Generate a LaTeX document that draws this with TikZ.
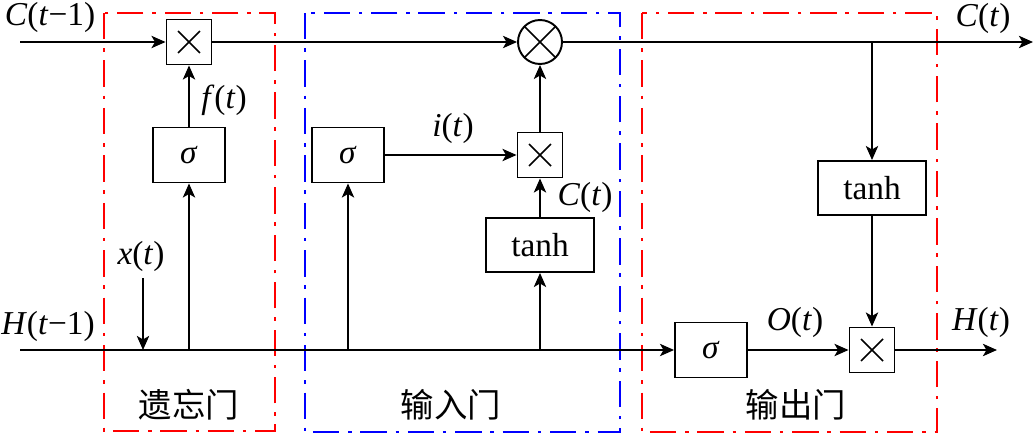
\documentclass[tikz,border=0pt]{standalone}
\usepackage{fontspec}
\setmainfont{Liberation Serif}
\newfontfamily\cjk{Noto Sans CJK SC}
\usepackage{tikz}
\usetikzlibrary{
    arrows.meta,
    positioning,
    calc
}
\tikzset{
  block/.style   = {draw, line width=1.1pt, minimum width=1.44cm,
                    minimum height=1.1cm, inner sep=0pt},
  tblock/.style  = {draw, line width=1.1pt, minimum width=2.16cm,
                    minimum height=1.08cm, inner sep=0pt},
  mult/.style    = {draw, line width=1.1pt, minimum size=0.9cm, inner sep=0pt,
                    path picture={\draw[line width=0.9pt]
                      ([shift={(-0.22cm,-0.22cm)}]path picture bounding box.center) --
                      ([shift={(0.22cm,0.22cm)}]path picture bounding box.center)
                      ([shift={(-0.22cm,0.22cm)}]path picture bounding box.center) --
                      ([shift={(0.22cm,-0.22cm)}]path picture bounding box.center);}},
  pmult/.style   = {draw, circle, line width=1.1pt, minimum size=0.88cm, inner sep=0pt,
                    path picture={\draw[line width=0.9pt]
                      (path picture bounding box.north west) --
                      (path picture bounding box.south east)
                      (path picture bounding box.north east) --
                      (path picture bounding box.south west);}},
  arr/.style     = {-{Stealth[length=8pt, width=7pt, inset=2pt]}, line width=1.1pt},
  gate/.style    = {line width=1.4pt,
                    dash pattern=on 15pt off 5pt on 2pt off 5pt},
  cjklabel/.style = {font=\cjk\fontsize{19}{22}\selectfont}
}
\definecolor{gateRed}{RGB}{255,0,0}
\definecolor{gateBlue}{RGB}{0,0,255}

\begin{document}
\begin{tikzpicture}[x=0.02cm, y=-0.02cm, font=\fontsize{19}{22}\selectfont]
    \useasboundingbox (0,0) rectangle (1035,436);

    % gates
    \draw[gate, gateRed]  (104,13) rectangle (275,431);
    \draw[gate, gateBlue] (305,13) rectangle (620,432);
    \draw[gate, gateRed]  (642,13) rectangle (937,432);

    % blocks
    \node[mult]   (m1)   at (189,42)  {};
    \node[pmult]  (csum) at (540,42)  {};
    \node[block]  (sf)   at (189,155) {\textit{σ}};
    \node[block]  (si)   at (348,155) {\textit{σ}};
    \node[mult]   (m2)   at (540,155) {};
    \node[tblock] (ti)   at (540,245) {tanh};
    \node[tblock] (to)   at (872,188) {tanh};
    \node[block]  (so)   at (711,350) {\textit{σ}};
    \node[mult]   (m3)   at (872,350) {};

    \coordinate (cin)  at (20,42);
    \coordinate (cout) at (1033,42);
    \coordinate (ctap) at (872,42);
    \coordinate (hin)  at (20,350);
    \coordinate (hout) at (997,350);
    \coordinate (xtop) at (143,278);
    \coordinate (xin)  at (143,350);
    \coordinate (hf)   at (189,350);
    \coordinate (hi)   at (348,350);
    \coordinate (hc)   at (540,350);

    % cell state
    \draw[arr] (cin) -- (m1);
    \draw[arr] (m1) -- (csum);
    \draw[arr] (csum) -- (cout);
    \draw[arr] (ctap) -- (to);
    \draw[arr] (to) -- (m3);

    % hidden state
    \draw[arr] (hin) -- (so);
    \draw[arr] (so) -- (m3);
    \draw[arr] (m3) -- (hout);
    \draw[arr] (xtop) -- (xin);
    \draw[arr] (hf) -- (sf);
    \draw[arr] (sf) -- (m1);
    \draw[arr] (hi) -- (si);
    \draw[arr] (si) -- (m2);
    \draw[arr] (hc) -- (ti);
    \draw[arr] (ti) -- (m2);
    \draw[arr] (m2) -- (csum);

    % labels
    \node (lcin)  at (50,17)   {\textit{C}(\textit{t}−1)};
    \node (lf)    at (224,100) {\textit{f}(\textit{t})};
    \node (lx)    at (141,256) {\textit{x}(\textit{t})};
    \node (lhin)  at (48,326)  {\textit{H}(\textit{t}−1)};
    \node (li)    at (453,128) {\textit{i}(\textit{t})};
    \node (lct)   at (585,197) {\textit{C}(\textit{t})};
    \node (lcout) at (983,18)  {\textit{C}(\textit{t})};
    \node (lo)    at (795,322) {\textit{O}(\textit{t})};
    \node (lhout) at (981,322) {\textit{H}(\textit{t})};

    \node[cjklabel] (gf) at (189,405) {遗忘门};
    \node[cjklabel] (gi) at (451,405) {输入门};
    \node[cjklabel] (go) at (796,405) {输出门};
\end{tikzpicture}
\end{document}
